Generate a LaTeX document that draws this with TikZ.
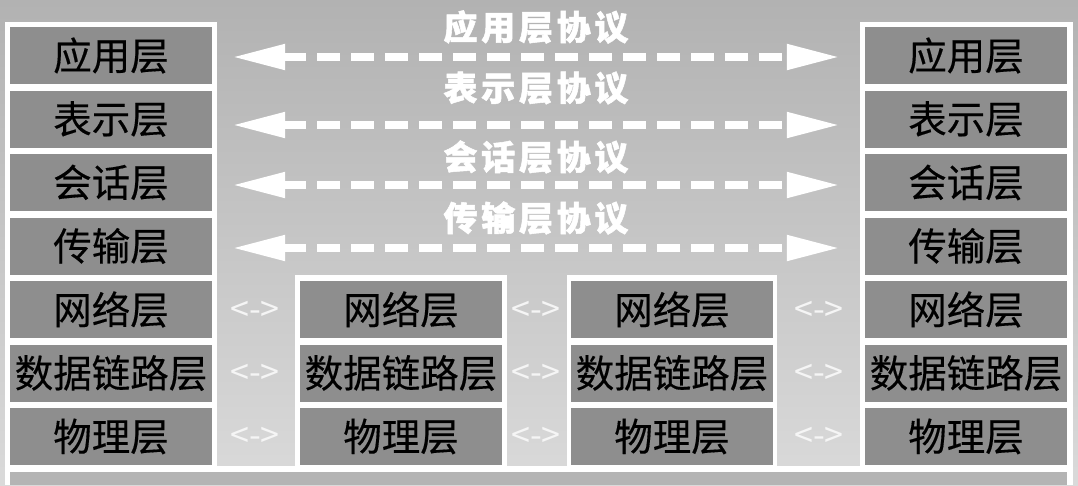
\documentclass[tikz,border=0pt]{standalone}
\usepackage{fontspec}
\newfontfamily\cjk{Noto Sans CJK SC}
\usetikzlibrary{arrows.meta}
\definecolor{bgtop}{HTML}{B2B2B2}
\definecolor{bgbot}{HTML}{DADADA}
\definecolor{boxgray}{HTML}{8E8E8E}
\definecolor{basegray}{HTML}{B4B4B4}
\tikzset{
  layer/.style={fill=boxgray, minimum width=202pt, minimum height=57pt, inner sep=0pt,
    font=\cjk\fontsize{38.5}{40}\selectfont\addfontfeature{FakeBold=0.3}, text=black},
  stackframe/.style={fill=white},
  proto/.style={text=white, inner sep=0pt,
    font=\cjk\bfseries\fontsize{34}{36}\selectfont\addfontfeature{LetterSpace=11,FakeBold=1.5}},
  peer/.style={text=white!92!gray, inner sep=0pt, font=\cjk\fontsize{34}{36}\selectfont},
  protoarrow/.style={draw=white, line width=8pt, dash pattern=on 23pt off 11pt,
    {Triangle[length=53pt,width=24pt]}-{Triangle[length=53pt,width=24pt]},
    shorten <=20pt, shorten >=25pt}
}
\begin{document}
\begin{tikzpicture}[x=1pt,y=-1pt]
\useasboundingbox (0,0) rectangle (1078,485);
\shade[top color=bgtop, bottom color=bgbot] (0,0) rectangle (1078,485);

% white frames behind the stacks
\fill[stackframe] (5,22) rectangle (217,472);
\fill[stackframe] (860,22) rectangle (1073,472);
\fill[stackframe] (295,275) rectangle (507,472);
\fill[stackframe] (567,275) rectangle (777,472);
\fill[stackframe] (5,466) rectangle (1073,485);
\fill[basegray] (10,472) rectangle (1067,485);

% host A
\node[layer] (A1) at (111,55.5) {应用层};
\node[layer] (A2) at (111,119) {表示层};
\node[layer] (A3) at (111,182.5) {会话层};
\node[layer] (A4) at (111,246) {传输层};
\node[layer] (A5) at (111,309.5) {网络层};
\node[layer] (A6) at (111,373) {数据链路层};
\node[layer] (A7) at (111,436.5) {物理层};

% router 1
\node[layer] (M5) at (401,309.5) {网络层};
\node[layer] (M6) at (401,373) {数据链路层};
\node[layer] (M7) at (401,436.5) {物理层};

% router 2
\node[layer] (N5) at (672,309.5) {网络层};
\node[layer] (N6) at (672,373) {数据链路层};
\node[layer] (N7) at (672,436.5) {物理层};

% host B
\node[layer] (B1) at (966,55.5) {应用层};
\node[layer] (B2) at (966,119) {表示层};
\node[layer] (B3) at (966,182.5) {会话层};
\node[layer] (B4) at (966,246) {传输层};
\node[layer] (B5) at (966,309.5) {网络层};
\node[layer] (B6) at (966,373) {数据链路层};
\node[layer] (B7) at (966,436.5) {物理层};

% peer protocols
\draw[protoarrow] ([yshift=-1.5pt]A1.east) -- ([yshift=-1.5pt]B1.west);
\draw[protoarrow] ([yshift=-6pt]A2.east) -- ([yshift=-6pt]B2.west);
\draw[protoarrow] ([yshift=-2.5pt]A3.east) -- ([yshift=-2.5pt]B3.west);
\draw[protoarrow] ([yshift=-2pt]A4.east) -- ([yshift=-2pt]B4.west);
\node[proto] (p1) at (536,27) {应用层协议};
\node[proto] (p2) at (536,88) {表示层协议};
\node[proto] (p3) at (536,157) {会话层协议};
\node[proto] (p4) at (536,218) {传输层协议};

% hop markers
\node[peer] (h15) at (255,311) {<->};
\node[peer] (h16) at (255,374) {<->};
\node[peer] (h17) at (255,437) {<->};
\node[peer] (h25) at (536,311) {<->};
\node[peer] (h26) at (536,374) {<->};
\node[peer] (h27) at (536,437) {<->};
\node[peer] (h35) at (819,311) {<->};
\node[peer] (h36) at (819,374) {<->};
\node[peer] (h37) at (819,437) {<->};
\end{tikzpicture}
\end{document}
